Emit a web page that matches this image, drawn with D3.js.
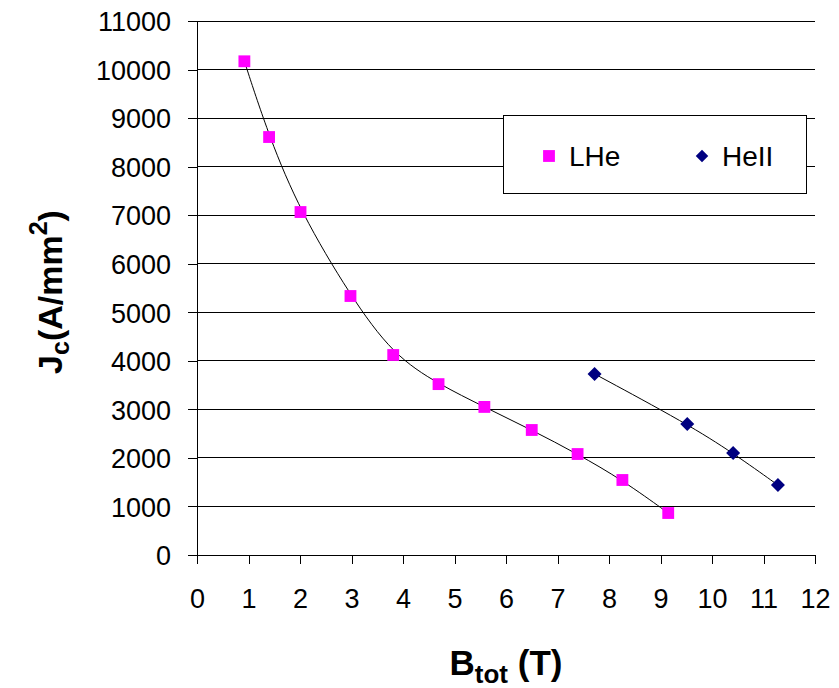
<!DOCTYPE html>
<html>
<head>
<meta charset="utf-8">
<script src="https://cdn.jsdelivr.net/npm/d3@7"></script>
<style>
  body { margin: 0; background: #fff; }
  text { font-family: "Liberation Sans", Arial, sans-serif; fill: #000; }
  .tick line, .domain { stroke: #000; shape-rendering: crispEdges; }
</style>
</head>
<body>
<div id="chart"></div>
<script>
// values
var lheB = [0.92, 1.40, 2.01, 2.98, 3.81, 4.69, 5.58, 6.50, 7.39, 8.26, 9.15];
var lheJc = [10170, 8610, 7065, 5335, 4120, 3520, 3050, 2575, 2080, 1545, 865];
var heiiB = [7.72, 9.52, 10.41, 11.28];
var heiiJc = [3730, 2700, 2100, 1440];
var xTicks = [0, 1, 2, 3, 4, 5, 6, 7, 8, 9, 10, 11, 12];
var yTicks = [0, 1000, 2000, 3000, 4000, 5000, 6000, 7000, 8000, 9000, 10000, 11000];
var seriesNames = ["LHe", "HeII"];

var svgWidth = 839;
var svgHeight = 688;

var margin = {
  top: 21,
  right: 24,
  bottom: 133,
  left: 197
};

var width = svgWidth - margin.left - margin.right;
var height = svgHeight - margin.top - margin.bottom;

var svg = d3.select("#chart")
  .append("svg")
  .attr("width", svgWidth)
  .attr("height", svgHeight);

var chartGroup = svg.append("g")
  .attr("transform", `translate(${margin.left}, ${margin.top})`);

var xScale = d3.scaleLinear().domain([0, 12]).range([0, width]);
var yScale = d3.scaleLinear().domain([0, 11000]).range([height, 0]);

var lheData = lheB.map((b, i) => ({ b: b, jc: lheJc[i] }));
var heiiData = heiiB.map((b, i) => ({ b: b, jc: heiiJc[i] }));

// horizontal gridlines
chartGroup.append("g")
  .selectAll("line")
  .data(yTicks)
  .enter()
  .append("line")
  .attr("x1", 0)
  .attr("x2", width)
  .attr("y1", d => yScale(d))
  .attr("y2", d => yScale(d))
  .attr("stroke", "#000")
  .attr("shape-rendering", "crispEdges");

// axes
var leftAxis = d3.axisLeft(yScale)
  .tickValues(yTicks)
  .tickSizeInner(9)
  .tickSizeOuter(0)
  .tickPadding(17)
  .tickFormat(d3.format("d"));

var bottomAxis = d3.axisBottom(xScale)
  .tickValues(xTicks)
  .tickSizeInner(9)
  .tickSizeOuter(0)
  .tickPadding(25);

chartGroup.append("g")
  .call(leftAxis)
  .selectAll("text")
  .attr("font-size", "27px")
  .attr("dy", "0.36em");

chartGroup.append("g")
  .attr("transform", `translate(0, ${height})`)
  .call(bottomAxis)
  .selectAll("text")
  .attr("font-size", "27px");

svg.selectAll(".domain").attr("stroke-width", 1);
svg.selectAll("text").attr("font-family", null);

// trend curves
var line = d3.line()
  .x(d => xScale(d.b))
  .y(d => yScale(d.jc))
  .curve(d3.curveBasis);

chartGroup.append("path")
  .datum(lheData)
  .attr("d", line)
  .attr("fill", "none")
  .attr("stroke", "#000")
  .attr("stroke-width", 1);

chartGroup.append("path")
  .datum(heiiData)
  .attr("d", line)
  .attr("fill", "none")
  .attr("stroke", "#000")
  .attr("stroke-width", 1);

// markers
var square = d3.symbol().type(d3.symbolSquare).size(140);
var diamond = d3.symbol().type(d3.symbolDiamond2).size(125);
var legendDiamond = d3.symbol().type(d3.symbolDiamond2).size(100);

chartGroup.selectAll(".lhe")
  .data(lheData)
  .enter()
  .append("path")
  .classed("lhe", true)
  .attr("d", square)
  .attr("transform", d => `translate(${xScale(d.b)}, ${yScale(d.jc)})`)
  .attr("fill", "#ff00ff");

chartGroup.selectAll(".heii")
  .data(heiiData)
  .enter()
  .append("path")
  .classed("heii", true)
  .attr("d", diamond)
  .attr("transform", d => `translate(${xScale(d.b)}, ${yScale(d.jc)})`)
  .attr("fill", "#000080");

// legend
var legend = svg.append("g")
  .attr("transform", "translate(503, 115)");

legend.append("rect")
  .attr("x", 0)
  .attr("y", 0)
  .attr("width", 303)
  .attr("height", 78)
  .attr("fill", "#fff")
  .attr("stroke", "#000")
  .attr("shape-rendering", "crispEdges");

legend.append("path")
  .attr("d", square)
  .attr("transform", "translate(46, 41)")
  .attr("fill", "#ff00ff");

legend.append("text")
  .attr("x", 66)
  .attr("y", 51)
  .attr("font-size", "28px")
  .text(seriesNames[0]);

legend.append("path")
  .attr("d", legendDiamond)
  .attr("transform", "translate(199, 41)")
  .attr("fill", "#000080");

legend.append("text")
  .attr("x", 219)
  .attr("y", 51)
  .attr("font-size", "28px")
  .text(seriesNames[1]);

// x axis title
var xTitle = svg.append("text")
  .attr("x", margin.left + width / 2)
  .attr("y", 675)
  .attr("text-anchor", "middle")
  .attr("font-size", "35px")
  .attr("font-weight", "bold");
xTitle.append("tspan").text("B");
xTitle.append("tspan").attr("font-size", "26px").attr("dy", 8).text("tot");
xTitle.append("tspan").attr("dy", -8).text(" (T)");

// y axis title
var yTitle = svg.append("text")
  .attr("transform", "translate(62, 292) rotate(-90)")
  .attr("text-anchor", "middle")
  .attr("font-size", "34px")
  .attr("font-weight", "bold");
yTitle.append("tspan").text("J");
yTitle.append("tspan").attr("font-size", "25px").attr("dy", 7).text("c");
yTitle.append("tspan").attr("dy", -7).text("(A/mm");
yTitle.append("tspan").attr("font-size", "25px").attr("dy", -15).text("2");
yTitle.append("tspan").attr("dy", 15).text(")");
</script>
</body>
</html>
